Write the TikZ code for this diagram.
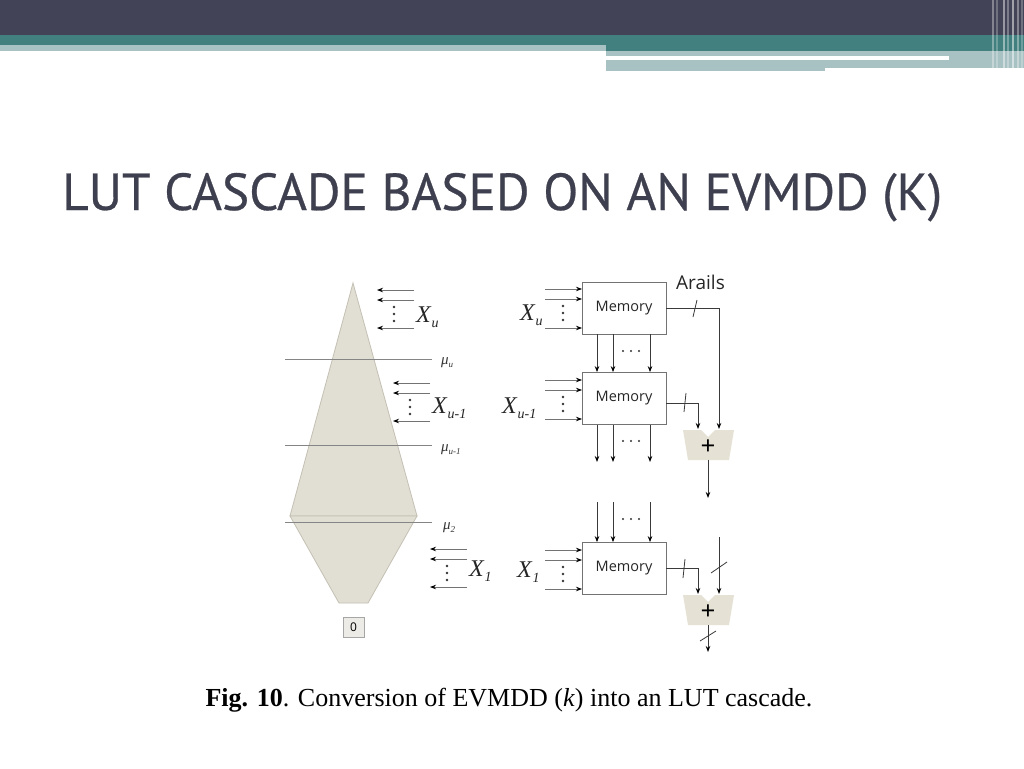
\documentclass[tikz,border=0pt]{standalone}
\usepackage{fontspec}
\setmainfont{Liberation Serif}
\newfontfamily\titlefont[FakeBold=0.5]{PT Sans}
\newfontfamily\osfont{Open Sans}
\usetikzlibrary{arrows.meta}
\definecolor{hdark}{HTML}{424356}
\definecolor{hteal}{HTML}{41807F}
\definecolor{hlight}{HTML}{A8C1C3}
\definecolor{titlec}{HTML}{3F404F}
\definecolor{beige}{HTML}{E1DED3}
\definecolor{beigeedge}{HTML}{C4C0B4}
\definecolor{adderc}{HTML}{E5E2D5}
\definecolor{mulinec}{HTML}{858585}
\definecolor{wirec}{HTML}{3A3A3A}
\newcommand\Xlab[1]{{\fontsize{24}{24}\selectfont\textit{X}}\raisebox{-5pt}{\fontsize{14}{14}\selectfont\textit{#1}}}
\newcommand\Mulab[1]{{\fontsize{15}{15}\selectfont\textit{μ}}\raisebox{-2.5pt}{\fontsize{9}{9}\selectfont\textit{#1}}}
\tikzset{
  arr/.style={draw=wirec, line width=0.8pt, -{Stealth[length=6pt,width=4.5pt,black]}},
  inarr/.style={draw=gray!90!black, line width=0.8pt, -{Stealth[length=6pt,width=4.5pt,black]}},
  wire/.style={draw=wirec, line width=0.8pt},
  memory/.style={draw=gray!90!black, line width=0.8pt, fill=white, minimum width=84pt, minimum height=52pt, inner sep=0pt, text=black!85, font=\osfont\fontsize{14.5}{14.5}\selectfont},
  mulbl/.style={anchor=west, inner sep=0pt, text=black!80},
  xlbl/.style={anchor=base west, inner sep=0pt, text=black!85},
  dotc/.style={fill=black!80},
  muline/.style={draw=mulinec, line width=1pt},
  plus/.style={inner sep=0pt, font=\bfseries\fontsize{26}{26}\selectfont},
  ingroup/.pic={
    \coordinate (-s1) at (37,0);  \coordinate (-t1) at (0,0);
    \coordinate (-s2) at (37,10); \coordinate (-t2) at (0,10);
    \coordinate (-s3) at (37,38); \coordinate (-t3) at (0,38);
    \draw[inarr] (-s1) -- (-t1);
    \draw[inarr] (-s2) -- (-t2);
    \draw[inarr] (-s3) -- (-t3);
    \fill[dotc] (17,17) circle (1.3) (17,24) circle (1.3) (17,31) circle (1.3);
  },
  ingroupr/.pic={
    \coordinate (-s1) at (0,0);  \coordinate (-t1) at (37,0);
    \coordinate (-s2) at (0,10); \coordinate (-t2) at (37,10);
    \coordinate (-s3) at (0,39); \coordinate (-t3) at (37,39);
    \draw[inarr] (-s1) -- (-t1);
    \draw[inarr] (-s2) -- (-t2);
    \draw[inarr] (-s3) -- (-t3);
    \fill[dotc] (18,17) circle (1.3) (18,24) circle (1.3) (18,31) circle (1.3);
  },
  adderpic/.pic={
    \fill[adderc] (-25,-15) -- (-7,-15) -- (0,-8) -- (7,-15) -- (26,-15) -- (21,15) -- (-20,15) -- cycle;
    \node[plus] (-p) at (0,2) {+};
  },
  hdots/.pic={
    \fill[dotc] (-8,0) circle (1.1) (0,0) circle (1.1) (8,0) circle (1.1);
  }
}
\begin{document}
\begin{tikzpicture}[x=1pt,y=-1pt]
\useasboundingbox[fill=white] (0,0) rectangle (1024,768);
% ---------- header bar ----------
\fill[hdark] (0,0) rectangle (1024,35);
\fill[hteal] (0,35) rectangle (606,45);
\fill[hlight] (0,45) rectangle (606,51);
\fill[hteal] (606,35) rectangle (1024,51);
\fill[hlight] (606,51) rectangle (1024,68);
\fill[white] (606,56) rectangle (949,60);
\fill[hlight] (606,68) rectangle (825,71);
\foreach \xx/\op in {992/0.35,996/0.25,1003/0.45,1007/0.3,1012/0.5,1017/0.35,1021/0.25}
  \fill[white, opacity=\op] (\xx,0) rectangle ++(2,68);
% ---------- title ----------
\node[anchor=base west, inner sep=0pt, text=titlec, xscale=0.985, font=\titlefont\fontsize{52}{52}\selectfont] (title) at (62,210) {LUT CASCADE BASED ON AN EVMDD (K)};
% ---------- left: EVMDD shape ----------
\draw[fill=beige, draw=beigeedge, line width=0.8pt] (353,283) -- (417,516) -- (290,516) -- cycle;
\draw[fill=beige, draw=beigeedge, line width=0.8pt] (290,516) -- (417,516) -- (368,603) -- (339,603) -- cycle;
\draw[muline] (285,359) -- (432,359);
\draw[muline] (285,445) -- (432,445);
\draw[muline] (285,522) -- (432,522);
\node[mulbl] (mu1) at (441,363) {\Mulab{u}};
\node[mulbl] (mu2) at (441,450) {\Mulab{u-1}};
\node[mulbl] (mu3) at (443,528) {\Mulab{2}};
\pic (gl1) at (377,290) {ingroup};
\pic (gl2) at (393,383) {ingroup};
\pic (gl3) at (430,549) {ingroup};
\node[xlbl] (xl1) at (416,322) {\Xlab{u}};
\node[xlbl] (xl2) at (432,413) {\Xlab{u-1}};
\node[xlbl] (xl3) at (469,576) {\Xlab{1}};
\node[draw=gray!70, fill=beige!60, line width=0.8pt, minimum width=21pt, minimum height=20pt, inner sep=0pt, font=\osfont\fontsize{12}{12}\selectfont] (zero) at (353.5,627) {0};
% ---------- right: LUT cascade ----------
\node[memory] (m1) at (624,308) {Memory};
\node[memory] (m2) at (624,398.5) {Memory};
\node[memory] (m3) at (624,568.5) {Memory};
\pic (gr1) at (545,289) {ingroupr};
\pic (gr2) at (545,380) {ingroupr};
\pic (gr3) at (545,550) {ingroupr};
\node[xlbl] (xr1) at (520,320) {\Xlab{u}};
\node[xlbl] (xr2) at (502,413) {\Xlab{u-1}};
\node[xlbl] (xr3) at (517,577) {\Xlab{1}};
\coordinate (c1) at (597,0);
\coordinate (c2) at (613,0);
\coordinate (c3) at (650,0);
\coordinate (e2) at (0,462);
\coordinate (s3) at (0,502);
\foreach \c in {c1,c2,c3}{
  \draw[arr] (\c |- m1.south) -- (\c |- m2.north);
  \draw[arr] (\c |- m2.south) -- (\c |- e2);
  \draw[arr] (\c |- s3) -- (\c |- m3.north);
}
\pic at (631,351) {hdots};
\pic at (631,441) {hdots};
\pic at (631,519) {hdots};
% adders
\pic (a1) at (708,445) {adderpic};
\pic (a2) at (708,610) {adderpic};
\coordinate (a1l) at (698,429);
\coordinate (a1r) at (719,429);
\coordinate (a1o) at (708,460);
\coordinate (o1) at (708,498);
\coordinate (a2l) at (698,594);
\coordinate (a2r) at (719,594);
\coordinate (i2) at (719,537);
\coordinate (a2o) at (708,625);
\coordinate (o2) at (708,652);
\draw[arr] (m1.east) -| (a1r);
\draw[arr] ([yshift=-4.5pt]m2.east) -| (a1l);
\draw[arr] (a1o) -- (o1);
\draw[arr] (m3.east) -| (a2l);
\draw[arr] (i2) -- (a2r);
\draw[arr] (a2o) -- (o2);
% bus ticks
\draw[wire] (697,300) -- (693,317);
\draw[wire] (686,393) -- (684,412);
\draw[wire] (685,559) -- (683,578);
\draw[wire] (711,573) -- (727,562);
\draw[wire] (700,641) -- (716,631);
\node[anchor=west, inner sep=0pt, text=black!85, font=\osfont\fontsize{19}{19}\selectfont] (arails) at (676,282) {Arails};
% ---------- caption ----------
\node[inner sep=0pt, font=\fontsize{26}{26}\selectfont] (caption) at (509,700) {\textbf{Fig. 10}. Conversion of EVMDD (\textit{k}) into an LUT cascade.};
\end{tikzpicture}
\end{document}
